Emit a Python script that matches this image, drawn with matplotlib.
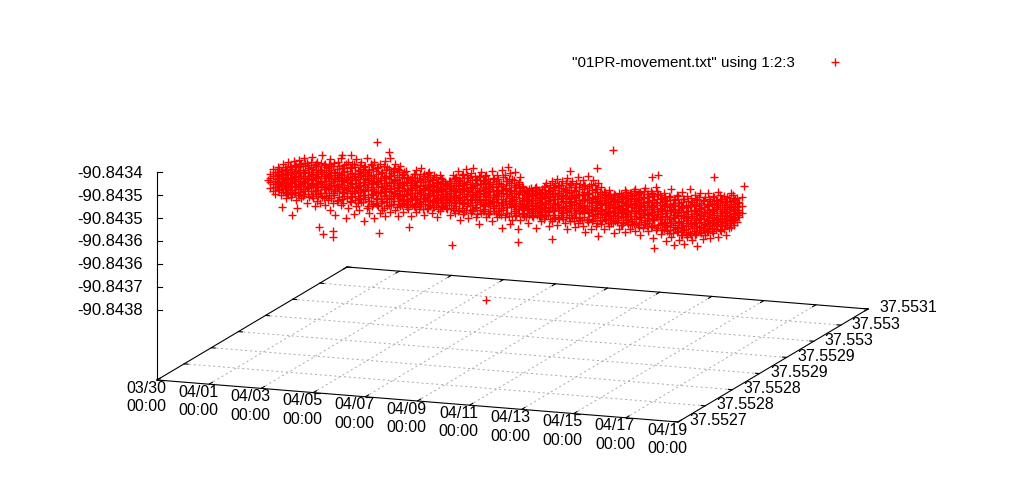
import matplotlib
matplotlib.use("Agg")
import matplotlib.pyplot as plt

plt.rcParams['font.family'] = ['Liberation Sans', 'DejaVu Sans']

# ticks
x_days = [0, 2, 4, 6, 8, 10, 12, 14, 16, 18, 20]
x_labels = ["03/30", "04/01", "04/03", "04/05", "04/07", "04/09", "04/11", "04/13", "04/15", "04/17", "04/19"]
lat_ticks = [37.5527, 37.55275, 37.5528, 37.55285, 37.5529, 37.55295, 37.553, 37.55305]
lat_labels = ["37.5527", "37.5528", "37.5528", "37.5529", "37.5529", "37.553", "37.553", "37.5531"]
lon_ticks = [-90.8434, -90.84345, -90.8435, -90.84355, -90.8436, -90.84365, -90.8437]
lon_labels = ["-90.8434", "-90.8435", "-90.8435", "-90.8436", "-90.8436", "-90.8437", "-90.8438"]

# the cloud sits at about one latitude
cloud_lat = 37.552875
lon_top = -90.8434

# lon_u = millionths of a degree below lon_top, one row per day value
days_1 = [0.7, 0.8, 0.9, 1.0, 1.1, 1.2, 1.3, 1.4, 1.5, 1.6, 1.7, 1.8, 1.9, 2.0, 2.1, 2.2, 2.3, 2.4, 2.5, 2.6, 2.7, 2.8, 2.9, 3.0, 3.1, 3.2, 3.3, 3.4, 3.5, 3.6]
lon_u_1 = [[128, 146, 158, 137], [118, 133, 150, 165], [124, 142, 155, 170], [112, 130, 147, 160], [120, 136, 152, 172],
           [105, 128, 143, 166], [116, 139, 158, 178], [100, 125, 146, 168], [110, 134, 151, 175], [96, 122, 140, 163],
           [106, 131, 149, 180], [92, 118, 144, 170], [102, 127, 155, 176], [88, 120, 139, 165], [98, 133, 150, 185],
           [108, 125, 147, 172], [84, 116, 142, 168], [100, 130, 157, 190], [94, 121, 146, 178], [110, 135, 160, 182],
           [78, 115, 140, 170], [96, 128, 152, 186], [105, 124, 148, 175], [86, 119, 143, 195], [99, 132, 158, 180],
           [112, 127, 150, 205], [90, 122, 145, 172], [82, 117, 138, 184], [103, 130, 155, 178], [94, 125, 149, 210]]
days_2 = [3.7, 3.8, 3.9, 4.0, 4.1, 4.2, 4.3, 4.4, 4.5, 4.6, 4.7, 4.8, 4.9, 5.0, 5.1, 5.2, 5.3, 5.4, 5.5, 5.6, 5.7, 5.8, 5.9, 6.0, 6.1, 6.2, 6.3, 6.4, 6.5, 6.6]
lon_u_2 = [[88, 121, 146, 188], [101, 134, 162, 176], [92, 118, 151, 200], [80, 127, 143, 183], [107, 136, 166, 192],
           [86, 115, 148, 174], [96, 129, 157, 214], [76, 111, 139, 186], [102, 125, 170, 196], [90, 133, 154, 181],
           [83, 119, 146, 205], [97, 128, 163, 176], [87, 122, 150, 193], [105, 137, 168, 186], [79, 116, 145, 200],
           [93, 131, 159, 178], [72, 112, 141, 190], [100, 126, 155, 172], [84, 120, 148, 184], [95, 135, 165, 198],
           [89, 124, 152, 176], [106, 130, 160, 188], [98, 122, 147, 170], [112, 138, 162, 180], [116, 134, 156, 194],
           [104, 128, 150, 172], [94, 126, 158, 186], [110, 136, 164, 178], [88, 120, 146, 168], [102, 132, 154, 190]]
days_3 = [6.7, 6.8, 6.9, 7.0, 7.1, 7.2, 7.3, 7.4, 7.5, 7.6, 7.7, 7.8, 7.9, 8.0, 8.1, 8.2, 8.3, 8.4, 8.5, 8.6, 8.7, 8.8, 8.9, 9.0, 9.1, 9.2, 9.3, 9.4, 9.5, 9.6]
lon_u_3 = [[108, 130, 152, 176], [96, 124, 146, 168], [114, 138, 160, 184], [102, 126, 148, 172], [118, 134, 156, 192],
           [100, 128, 150, 178], [110, 136, 162, 170], [118, 130, 146, 166], [122, 140, 154, 174], [112, 128, 150, 186],
           [98, 126, 144, 170], [104, 132, 158, 180], [88, 120, 148, 176], [110, 134, 152, 196], [94, 124, 160, 182],
           [84, 116, 142, 172], [102, 130, 156, 190], [90, 122, 150, 178], [80, 118, 138, 168], [106, 136, 164, 186],
           [96, 128, 146, 200], [86, 114, 152, 176], [104, 132, 160, 172], [92, 120, 144, 184], [112, 126, 154, 178],
           [84, 118, 148, 192], [100, 134, 158, 170], [90, 124, 142, 182], [108, 130, 162, 176], [78, 122, 150, 204]]
days_4 = [9.7, 9.8, 9.9, 10.0, 10.1, 10.2, 10.3, 10.4, 10.5, 10.6, 10.7, 10.8, 10.9, 11.0, 11.1, 11.2, 11.3, 11.4, 11.5, 11.6, 11.7, 11.8, 11.9, 12.0, 12.1, 12.2, 12.3, 12.4, 12.5, 12.6]
lon_u_4 = [[90, 118, 146, 180], [102, 130, 158, 172], [84, 124, 150, 196], [96, 134, 142, 186], [80, 114, 154, 176],
           [106, 128, 162, 204], [92, 122, 148, 184], [112, 136, 156, 170], [118, 132, 150, 178], [124, 140, 160, 190],
           [114, 130, 146, 168], [120, 138, 158, 176], [110, 126, 152, 200], [116, 134, 148, 172], [122, 142, 164, 184],
           [108, 128, 154, 178], [100, 124, 146, 170], [114, 136, 160, 192], [94, 120, 150, 182], [106, 132, 156, 174],
           [88, 126, 144, 188], [102, 118, 152, 176], [92, 130, 162, 170], [110, 124, 146, 184], [84, 116, 158, 196],
           [98, 134, 150, 178], [90, 122, 142, 172], [104, 128, 160, 190], [80, 120, 148, 182], [96, 136, 154, 174]]
days_5 = [12.7, 12.8, 12.9, 13.0, 13.1, 13.2, 13.3, 13.4, 13.5, 13.6, 13.7, 13.8, 13.9, 14.0, 14.1, 14.2, 14.3, 14.4, 14.5, 14.6, 14.7, 14.8, 14.9, 15.0, 15.1, 15.2, 15.3, 15.4, 15.5, 15.6]
lon_u_5 = [[86, 120, 152, 186], [100, 128, 146, 200], [78, 116, 158, 176], [94, 134, 150, 192], [84, 124, 162, 172],
           [104, 130, 144, 184], [90, 118, 156, 206], [98, 136, 148, 178], [110, 126, 160, 190], [116, 132, 146, 170],
           [104, 140, 154, 182], [120, 128, 164, 176], [112, 134, 150, 196], [122, 138, 158, 172], [108, 126, 146, 186],
           [116, 142, 152, 178], [100, 130, 160, 192], [118, 134, 148, 170], [106, 124, 156, 184], [112, 136, 166, 176],
           [96, 128, 150, 188], [108, 120, 144, 174], [102, 132, 158, 196], [114, 126, 148, 180], [92, 138, 162, 172],
           [106, 122, 152, 186], [98, 130, 146, 176], [110, 134, 160, 200], [88, 124, 154, 182], [104, 140, 148, 172]]
days_6 = [15.7, 15.8, 15.9, 16.0, 16.1, 16.2, 16.3, 16.4, 16.5, 16.6, 16.7, 16.8, 16.9, 17.0, 17.1, 17.2, 17.3, 17.4, 17.5, 17.6, 17.7, 17.8, 17.9, 18.0, 18.1, 18.2, 18.3, 18.4, 18.5, 18.6, 18.7, 18.8]
lon_u_6 = [[112, 136, 158, 190], [100, 128, 166, 180], [118, 144, 172, 204], [106, 130, 156, 186], [90, 138, 164, 196],
           [114, 126, 150, 212], [102, 142, 174, 184], [120, 134, 160, 200], [96, 128, 168, 188], [110, 148, 176, 208],
           [104, 136, 156, 192], [88, 124, 162, 182], [116, 146, 172, 198], [100, 132, 158, 186], [108, 140, 166, 210],
           [94, 126, 150, 180], [112, 144, 170, 194], [102, 134, 160, 184], [92, 122, 152, 176], [110, 138, 164, 190],
           [98, 130, 156, 178], [106, 126, 146, 170], [90, 118, 150, 186], [104, 134, 160, 174], [96, 124, 144, 168],
           [108, 130, 154, 180], [100, 120, 142, 166], [88, 116, 138, 162], [104, 126, 148, 158], [98, 118, 132, 152],
           [110, 128, 140], [96, 116, 130]]
days_7 = [0.6, 18.9]
lon_u_7 = [[141], [71]]

# the solid middle of the band
mid_days_1 = [0.95, 1.05, 1.15, 1.25, 1.35, 1.45, 1.55, 1.65, 1.75, 1.85, 1.95, 2.05, 2.15, 2.25, 2.35, 2.45, 2.55, 2.65, 2.75, 2.85, 2.95, 3.05, 3.15, 3.25, 3.35, 3.45, 3.55, 3.65, 3.75, 3.85]
mid_u_1 = [[122, 131, 139, 148, 156], [115, 127, 135, 144, 153, 161], [119, 129, 141, 150, 159], [110, 123, 132, 146, 157, 164], [114, 126, 137, 149, 154, 167],
           [108, 120, 133, 142, 151, 163], [113, 124, 136, 145, 160, 168], [104, 118, 129, 140, 152, 165], [109, 121, 134, 147, 156, 169], [101, 115, 128, 138, 150, 162],
           [106, 119, 131, 143, 155, 171], [99, 113, 126, 137, 148, 160], [103, 117, 130, 141, 153, 166], [96, 111, 124, 135, 146, 158], [105, 120, 132, 144, 157, 173],
           [98, 112, 127, 139, 149, 163], [102, 116, 129, 142, 154, 168], [95, 110, 123, 136, 147, 161], [100, 114, 128, 140, 152, 172], [104, 118, 133, 145, 159, 167],
           [97, 109, 122, 134, 146, 164], [101, 115, 127, 138, 151, 169], [94, 112, 125, 141, 155, 162], [106, 119, 131, 143, 153, 175], [99, 113, 124, 137, 149, 166],
           [103, 117, 129, 144, 158, 171], [96, 110, 126, 139, 147, 163], [108, 121, 133, 146, 156, 168], [100, 114, 128, 140, 152, 174], [93, 111, 123, 136, 150, 165]]
mid_days_2 = [3.95, 4.05, 4.15, 4.25, 4.35, 4.45, 4.55, 4.65, 4.75, 4.85, 4.95, 5.05, 5.15, 5.25, 5.35, 5.45, 5.55, 5.65, 5.75, 5.85, 5.95, 6.05, 6.15, 6.25, 6.35, 6.45, 6.55, 6.65, 6.75, 6.85]
mid_u_2 = [[98, 113, 127, 141, 155, 170], [104, 119, 132, 147, 160, 177], [92, 110, 124, 138, 152, 167], [101, 116, 130, 144, 158, 173], [95, 108, 123, 136, 149, 165],
           [106, 120, 134, 146, 161, 180], [90, 112, 126, 140, 154, 169], [99, 114, 129, 143, 157, 175], [103, 118, 131, 148, 163, 172], [94, 109, 125, 137, 151, 178],
           [107, 121, 135, 149, 164, 171], [91, 113, 127, 142, 156, 182], [100, 115, 128, 139, 153, 168], [96, 111, 124, 145, 159, 176], [105, 119, 133, 147, 162, 174],
           [93, 108, 122, 137, 150, 166], [102, 117, 130, 143, 155, 179], [98, 112, 126, 140, 157, 170], [108, 123, 136, 149, 161, 173], [100, 114, 128, 142, 153, 167],
           [111, 125, 138, 150, 163, 176], [115, 127, 139, 146, 158, 169], [109, 122, 133, 145, 155, 171], [104, 118, 131, 144, 159, 175], [112, 126, 137, 151, 165, 168],
           [101, 116, 129, 141, 154, 172], [106, 120, 134, 148, 160, 178], [113, 124, 135, 147, 156, 167], [99, 117, 130, 143, 157, 174], [107, 121, 132, 146, 161, 170]]
mid_days_3 = [6.95, 7.05, 7.15, 7.25, 7.35, 7.45, 7.55, 7.65, 7.75, 7.85, 7.95, 8.05, 8.15, 8.25, 8.35, 8.45, 8.55, 8.65, 8.75, 8.85, 8.95, 9.05, 9.15, 9.25, 9.35, 9.45, 9.55, 9.65, 9.75, 9.85]
mid_u_3 = [[110, 123, 135, 147, 159, 171], [105, 119, 131, 144, 153, 166], [116, 127, 139, 150, 162, 174], [108, 121, 133, 142, 155, 169], [114, 125, 136, 148, 158, 167],
           [119, 129, 140, 151, 160, 172], [112, 124, 134, 145, 154, 164], [117, 128, 138, 149, 157, 170], [107, 120, 132, 143, 156, 175], [102, 116, 129, 141, 152, 165],
           [109, 122, 135, 146, 159, 173], [98, 114, 127, 139, 151, 168], [104, 118, 130, 144, 155, 177], [95, 112, 125, 137, 149, 163], [101, 115, 128, 142, 157, 171],
           [107, 121, 133, 147, 161, 174], [96, 111, 124, 136, 150, 166], [103, 117, 131, 143, 153, 179], [99, 113, 126, 140, 156, 169], [106, 120, 134, 148, 158, 172],
           [94, 110, 123, 138, 152, 167], [102, 116, 129, 141, 155, 175], [108, 122, 135, 146, 160, 170], [97, 112, 127, 139, 151, 164], [105, 118, 132, 144, 157, 173],
           [100, 114, 125, 137, 149, 168], [109, 123, 136, 150, 162, 176], [95, 113, 128, 142, 154, 165], [103, 119, 131, 145, 159, 171], [98, 111, 124, 138, 152, 178]]
mid_days_4 = [9.95, 10.05, 10.15, 10.25, 10.35, 10.45, 10.55, 10.65, 10.75, 10.85, 10.95, 11.05, 11.15, 11.25, 11.35, 11.45, 11.55, 11.65, 11.75, 11.85, 11.95, 12.05, 12.15, 12.25, 12.35, 12.45, 12.55, 12.65, 12.75, 12.85]
mid_u_4 = [[106, 120, 133, 145, 158, 170], [99, 113, 126, 140, 153, 167], [109, 122, 136, 148, 161, 174], [102, 116, 129, 143, 155, 169], [111, 124, 137, 149, 159, 172],
           [118, 128, 140, 151, 162, 175], [121, 131, 141, 152, 160, 168], [115, 126, 137, 147, 157, 171], [119, 129, 139, 149, 163, 173], [112, 124, 135, 146, 155, 166],
           [117, 127, 138, 150, 161, 170], [120, 130, 142, 153, 159, 174], [113, 125, 136, 147, 156, 167], [107, 121, 133, 144, 158, 172], [116, 128, 139, 151, 162, 169],
           [103, 117, 130, 143, 154, 176], [110, 123, 134, 146, 159, 168], [98, 114, 127, 141, 153, 171], [105, 119, 132, 145, 157, 173], [101, 115, 125, 138, 152, 166],
           [108, 122, 135, 148, 160, 175], [96, 112, 128, 140, 155, 169], [104, 118, 131, 144, 156, 172], [100, 114, 126, 137, 150, 165], [109, 123, 136, 149, 161, 177],
           [94, 111, 124, 139, 152, 168], [102, 117, 130, 143, 158, 170], [106, 120, 133, 146, 154, 174], [97, 113, 127, 141, 157, 167], [103, 116, 129, 142, 151, 173]]
mid_days_5 = [12.95, 13.05, 13.15, 13.25, 13.35, 13.45, 13.55, 13.65, 13.75, 13.85, 13.95, 14.05, 14.15, 14.25, 14.35, 14.45, 14.55, 14.65, 14.75, 14.85, 14.95, 15.05, 15.15, 15.25, 15.35, 15.45, 15.55, 15.65, 15.75, 15.85]
mid_u_5 = [[99, 114, 128, 142, 156, 171], [107, 121, 135, 147, 160, 175], [95, 111, 125, 139, 153, 168], [103, 118, 131, 144, 158, 178], [110, 123, 134, 148, 155, 170],
           [114, 126, 138, 150, 163, 173], [108, 120, 133, 145, 157, 167], [117, 129, 140, 152, 161, 176], [112, 124, 136, 149, 159, 169], [119, 130, 142, 151, 164, 174],
           [113, 125, 137, 146, 156, 171], [118, 128, 139, 153, 162, 168], [110, 122, 135, 147, 158, 177], [115, 127, 141, 150, 160, 172], [105, 119, 132, 144, 154, 166],
           [111, 124, 136, 148, 163, 175], [107, 120, 133, 146, 157, 169], [101, 117, 129, 143, 155, 173], [109, 123, 138, 149, 161, 170], [104, 118, 131, 145, 159, 179],
           [113, 125, 134, 147, 156, 167], [99, 116, 130, 142, 153, 172], [106, 121, 135, 150, 164, 176], [111, 123, 137, 146, 158, 168], [102, 119, 132, 144, 160, 174],
           [108, 122, 136, 151, 162, 171], [97, 115, 128, 141, 155, 178], [105, 120, 133, 147, 157, 169], [114, 127, 140, 153, 166, 181], [109, 124, 138, 150, 163, 175]]
mid_days_6 = [15.95, 16.05, 16.15, 16.25, 16.35, 16.45, 16.55, 16.65, 16.75, 16.85, 16.95, 17.05, 17.15, 17.25, 17.35, 17.45, 17.55, 17.65, 17.75, 17.85, 17.95, 18.05, 18.15, 18.25, 18.35, 18.45, 18.55, 18.65]
mid_u_6 = [[116, 129, 143, 156, 170, 183], [108, 123, 137, 151, 165, 179], [120, 133, 147, 161, 174, 187], [112, 126, 140, 154, 168, 176], [105, 121, 135, 149, 163, 181],
           [118, 131, 145, 158, 172, 190], [110, 125, 138, 152, 167, 178], [122, 135, 148, 162, 175, 185], [114, 127, 141, 155, 169, 182], [107, 122, 136, 150, 164, 188],
           [119, 132, 146, 159, 171, 177], [111, 124, 139, 153, 166, 184], [104, 120, 134, 148, 160, 175], [115, 128, 142, 157, 168, 180], [109, 123, 137, 150, 163, 173],
           [117, 130, 143, 155, 165, 178], [106, 119, 133, 146, 159, 170], [113, 127, 140, 152, 162, 174], [101, 116, 130, 144, 157, 168], [108, 122, 135, 148, 158, 164],
           [96, 112, 126, 139, 152, 171], [103, 117, 129, 141, 153, 163], [110, 121, 134, 146, 156, 160], [99, 113, 125, 137, 149, 158], [106, 118, 128, 140, 150, 154],
           [94, 108, 120, 131, 143, 151], [102, 112, 122, 134, 145], [107, 115, 124, 136]]

# stragglers outside the thick band
far_days = [4.8, 5.26, 3.8, 3.45, 2.57, 2.73, 3.11, 3.11, 1.54, 1.15, 1.73, 4.88, 7.68, 6.03, 13.86, 15.43, 17.73, 15.36, 15.59, 9.83, 10.2, 11.5, 13.24, 12.2, 9.0]
far_lon_u = [40, 60, 73, 74, 235, 249, 241, 254, 213, 198, 197, 237, 250, 219, 16, 222, 57, 68, 62, 71, 232, 220, 58, 69, 364]


def project(day, lat, lon_u=456.5):
    f = (lat - lat_ticks[0]) / 0.00035
    px = 157 + 26.05 * day + 190 * f
    py = 380 + 2.1 * day - 113 * f - (210 - 0.46 * lon_u)
    return px, py


fig = plt.figure(figsize=(10.24, 5.0), dpi=100)
ax = fig.add_axes([0, 0, 1, 1])
ax.set_xlim(0, 1024)
ax.set_ylim(500, 0)
ax.axis("off")


def seg(p0, p1, **kw):
    ax.plot([p0[0], p1[0]], [p0[1], p1[1]], **kw)


lat_first = lat_ticks[0]
lat_last = 37.55305
grid_style = dict(color="#a8a8a8", lw=0.7, dashes=(2, 3), zorder=1)
tick_style = dict(color="black", lw=0.8, zorder=2)

# floor grid
for d in x_days[1:-1]:
    seg(project(d, lat_first), project(d, lat_last), **grid_style)
for la in lat_ticks[1:-1]:
    seg(project(0, la), project(20, la), **grid_style)

# border of the floor
seg(project(0, lat_first), project(20, lat_first), **tick_style)
seg(project(20, lat_first), project(20, lat_last), **tick_style)
seg(project(20, lat_last), project(0, lat_last), **tick_style)
seg(project(0, lat_last), project(0, lat_first), **tick_style)

# x ticks and labels
for d, lab in zip(x_days, x_labels):
    seg(project(d, lat_first), project(d, lat_first + 0.000006), **tick_style)
    seg(project(d, lat_last), project(d, lat_last - 0.000006), **tick_style)
    px, py = project(d, lat_first)
    ax.text(px - 11, py + 17.5, lab + "\n00:00", ha="center", va="center", fontsize=11.5, linespacing=1.3, color="black")

# latitude ticks and labels
for la, lab in zip(lat_ticks, lat_labels):
    seg(project(0, la), project(0.15, la), **tick_style)
    seg(project(20, la), project(19.85, la), **tick_style)
    px, py = project(20, la)
    ax.text(px + 11, py - 1, lab, ha="left", va="center", fontsize=11.5, color="black")

# vertical axis, its ticks sit 2 px under the value scale of the cloud
z_base = project(0, lat_first)
ax.plot([z_base[0], z_base[0]], [z_base[1], 172], color="black", lw=0.8, zorder=2)
for lo, lab in zip(lon_ticks, lon_labels):
    u = (lon_top - lo) * 1e6
    px, py = project(0, lat_first, u)
    seg((px, py + 2), (px + 5, py + 2), **tick_style)
    ax.text(143, py + 3, lab, ha="right", va="center", fontsize=12, color="black")

# points
marks = dict(linestyle="none", marker="+", color="#ff0000", ms=5.2, mew=1.0, zorder=3)
groups = [(days_1, lon_u_1), (days_2, lon_u_2), (days_3, lon_u_3), (days_4, lon_u_4),
          (days_5, lon_u_5), (days_6, lon_u_6), (days_7, lon_u_7),
          (mid_days_1, mid_u_1), (mid_days_2, mid_u_2), (mid_days_3, mid_u_3),
          (mid_days_4, mid_u_4), (mid_days_5, mid_u_5), (mid_days_6, mid_u_6)]
cloud_x = []
cloud_y = []
for days, rows in groups:
    for d, row in zip(days, rows):
        for u in row:
            px, py = project(d, cloud_lat, u)
            cloud_x.append(px)
            cloud_y.append(py)
for d, u in zip(far_days, far_lon_u):
    px, py = project(d, cloud_lat, u)
    cloud_x.append(px)
    cloud_y.append(py)
ax.plot(cloud_x, cloud_y, **marks)

# key
ax.text(795, 63, '"01PR-movement.txt" using 1:2:3', ha="right", va="center", fontsize=10.9, color="black")
ax.plot([835], [62], **marks)

fig.savefig("out.png", dpi=100)
